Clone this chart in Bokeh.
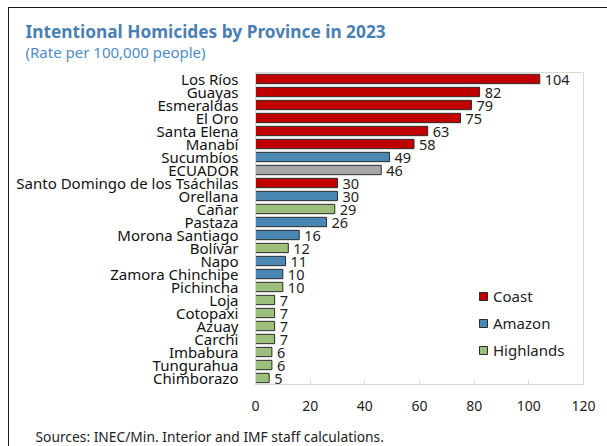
from bokeh.plotting import figure
from bokeh.models import (ColumnDataSource, FactorRange, Range1d, Legend,
                          LegendItem, FixedTicker, Title, InlineStyleSheet)
from bokeh.core.properties import value
from bokeh.embed import file_html
from bokeh.resources import INLINE

# ---- data ----
provinces = ["Los Ríos", "Guayas", "Esmeraldas", "El Oro", "Santa Elena", "Manabí",
             "Sucumbíos", "ECUADOR", "Santo Domingo de los Tsáchilas", "Orellana",
             "Cañar", "Pastaza", "Morona Santiago", "Bolívar", "Napo",
             "Zamora Chinchipe", "Pichincha", "Loja", "Cotopaxi", "Azuay", "Carchi",
             "Imbabura", "Tungurahua", "Chimborazo"]
rates = [104, 82, 79, 75, 63, 58, 49, 46, 30, 30, 29, 26, 16, 12, 11, 10, 10,
         7, 7, 7, 7, 6, 6, 5]
regions = ["Coast", "Coast", "Coast", "Coast", "Coast", "Coast", "Amazon", "Total",
           "Coast", "Amazon", "Highlands", "Amazon", "Amazon", "Highlands", "Amazon",
           "Amazon", "Highlands", "Highlands", "Highlands", "Highlands", "Highlands",
           "Highlands", "Highlands", "Highlands"]
legend_groups = ["Coast", "Amazon", "Highlands"]
x_ticks = [0, 20, 40, 60, 80, 100, 120]

title = "Intentional Homicides by Province in 2023"
subtitle = "(Rate per 100,000 people)"
source_note = "Sources: INEC/Min. Interior and IMF staff calculations."

colors = {"Coast": "#c00000", "Amazon": "#4a87b3", "Highlands": "#9cc07c", "Total": "#a6a6a6"}
FONT = "Noto Sans"

p = figure(width=607, height=446, output_backend="svg", toolbar_location=None,
           y_range=FactorRange(factors=provinces[::-1]), x_range=Range1d(0, 120),
           min_border_left=255, min_border_right=24, min_border_top=72,
           min_border_bottom=62, title=None)
p.outline_line_color = "#d9d9d9"
p.xgrid.visible = False
p.ygrid.visible = False

renderers = {}
for grp in ["Coast", "Amazon", "Highlands", "Total"]:
    idx = [i for i, r in enumerate(regions) if r == grp]
    src = ColumnDataSource(dict(y=[provinces[i] for i in idx], x=[rates[i] for i in idx]))
    renderers[grp] = p.hbar(y="y", right="x", left=0, height=0.72, source=src,
                            fill_color=colors[grp], line_color="#2b2b2b", line_width=1)

all_src = ColumnDataSource(dict(y=provinces, x=rates, t=[str(v) for v in rates]))
p.text(x="x", y="y", text="t", source=all_src, x_offset=5, y_offset=1,
       text_baseline="middle", text_align="left", text_font=value(FONT),
       text_font_size="14.5px", text_color="#222222")

# axes
p.xaxis.ticker = FixedTicker(ticks=x_ticks)
p.xaxis.axis_line_color = "#d9d9d9"
p.xaxis.major_tick_in = 4
p.xaxis.major_tick_out = 0
p.xaxis.major_tick_line_color = "#d9d9d9"
p.xaxis.minor_tick_line_color = None
p.xaxis.major_label_standoff = 16
p.xaxis.major_label_text_font = FONT
p.xaxis.major_label_text_font_size = "14px"
p.xaxis.major_label_text_color = "#222222"
# invisible spacer label pushes the source note further down
p.xaxis.axis_label = " "
p.xaxis.axis_label_text_font_size = "1px"
p.xaxis.axis_label_standoff = 7

p.yaxis.axis_line_color = "#d9d9d9"
p.yaxis.major_tick_line_color = None
p.yaxis.major_tick_out = 0
p.yaxis.major_tick_in = 0
p.yaxis.major_label_standoff = 17
p.yaxis.major_label_text_font = FONT
p.yaxis.major_label_text_font_size = "15px"
p.yaxis.major_label_text_color = "#111111"

# legend
legend = Legend(items=[LegendItem(label=g, renderers=[renderers[g]]) for g in legend_groups],
                location=(223, 24), glyph_width=10, glyph_height=10, label_height=20,
                spacing=7, padding=0, margin=0, label_standoff=5,
                label_text_font=FONT, label_text_font_size="15px",
                label_text_color="#222222", border_line_alpha=0,
                background_fill_alpha=0)
p.add_layout(legend, "center")

# titles: subtitle first (closest to frame), then main title
p.add_layout(Title(text=subtitle, align="left", offset=-230, standoff=22,
                   text_font=FONT, text_font_size="15px", text_font_style="normal",
                   text_color="#4d8cc6"), "above")
p.add_layout(Title(text=title, align="left", offset=-230, standoff=-28,
                   text_font=FONT, text_font_size="17.3px", text_font_style="bold",
                   text_color="#4a7fb2"), "above")
p.add_layout(Title(text=source_note, align="left", offset=-220, standoff=0,
                   text_font=FONT, text_font_size="13.8px", text_font_style="normal",
                   text_color="#222222"), "below")

# outer border (top and left only, like the cropped reference frame)
p.stylesheets = [InlineStyleSheet(css=
    ":host::after { content: ''; position: absolute; left: 8px; top: 7px; right: 0; bottom: 0;"
    " border-top: 1.5px solid #1a1a1a; border-left: 1.5px solid #1a1a1a; pointer-events: none; }")]

open("out.html", "w").write(file_html(p, INLINE))
